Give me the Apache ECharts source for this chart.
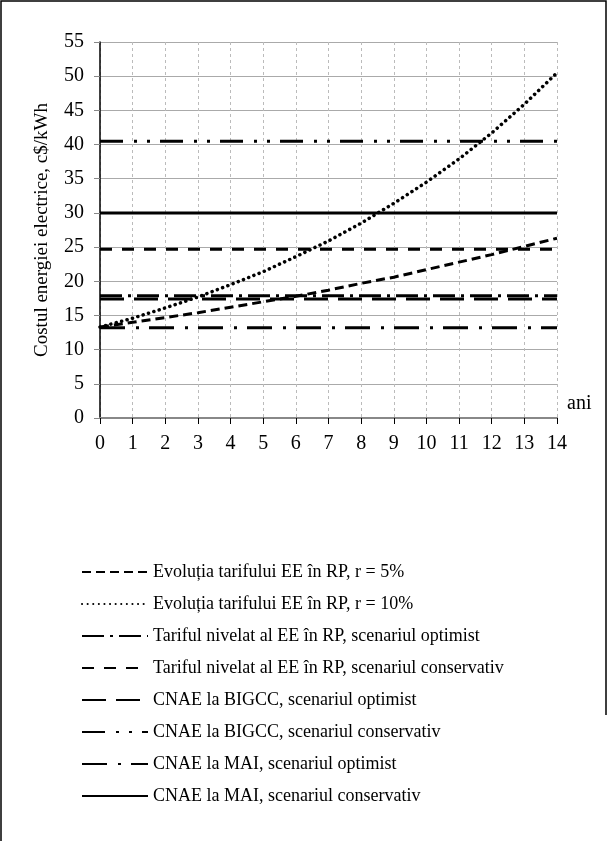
<!DOCTYPE html>
<html>
<head>
<meta charset="utf-8">
<script src="https://cdn.jsdelivr.net/npm/echarts@6/dist/echarts.min.js"></script>
<style>
  html, body { margin: 0; padding: 0; background: #fff; }
  #chart { width: 608px; height: 841px; }
</style>
</head>
<body>
<div id="chart"></div>
<script>
// years (ani) and the two tariff growth curves
const years = [0, 1, 2, 3, 4, 5, 6, 7, 8, 9, 10, 11, 12, 13, 14];
const tarif5 = [13.3, 14.0, 14.7, 15.4, 16.2, 17.0, 17.8, 18.7, 19.7, 20.6, 21.7, 22.8, 23.9, 25.1, 26.3];
const tarif10 = [13.3, 14.6, 16.1, 17.7, 19.5, 21.4, 23.6, 25.9, 28.5, 31.4, 34.5, 37.9, 41.7, 45.9, 50.5];

// flat levels (start and end of each horizontal line)
const xSpan = [0, 14];
const tarifNivOpt = [17.9, 17.9];
const tarifNivCons = [24.7, 24.7];
const bigccOpt = [17.4, 17.4];
const bigccCons = [40.5, 40.5];
const maiOpt = [13.2, 13.2];
const maiCons = [30, 30];

const seriesNames = [
  'Evoluția tarifului EE în RP, r = 5%',
  'Evoluția tarifului EE în RP, r = 10%',
  'Tariful nivelat al EE în RP, scenariul optimist',
  'Tariful nivelat al EE în RP, scenariul conservativ',
  'CNAE la BIGCC, scenariul optimist',
  'CNAE la BIGCC, scenariul conservativ',
  'CNAE la MAI, scenariul optimist',
  'CNAE la MAI, scenariul conservativ'
];

const font = 'Liberation Serif';
const pair = (xs, ys) => xs.map((x, i) => [x, ys[i]]);

const chart = echarts.init(document.getElementById('chart'));

function lineSeries(name, data, dash, cap, width) {
  return {
    name: name,
    type: 'line',
    data: data,
    symbol: 'none',
    // hide the legend marker, keep only the line sample
    itemStyle: { color: 'rgba(0,0,0,0)', borderWidth: 0 },
    lineStyle: { color: '#000', width: width || 3, type: dash, cap: cap || 'butt' }
  };
}

const option = {
  animation: false,
  backgroundColor: '#fff',
  grid: { left: 100, right: 51, top: 42, bottom: 423 },
  xAxis: {
    type: 'value',
    min: 0,
    max: 14,
    interval: 1,
    axisLine: { lineStyle: { color: '#888', width: 2 } },
    axisTick: { show: true, length: 6, lineStyle: { color: '#000' } },
    axisLabel: { color: '#000', fontFamily: font, fontSize: 20, margin: 16 },
    splitLine: { show: true, lineStyle: { color: '#bbb', type: [3, 3], width: 1 } }
  },
  yAxis: {
    type: 'value',
    min: 0,
    max: 55,
    interval: 5,
    name: 'Costul energiei electrice, c$/kWh',
    nameLocation: 'middle',
    nameGap: 48,
    nameTextStyle: { color: '#000', fontFamily: font, fontSize: 19 },
    axisLine: { show: true, lineStyle: { color: '#000', width: 1.5 } },
    axisTick: { show: true, length: 6, lineStyle: { color: '#888' } },
    axisLabel: { color: '#000', fontFamily: font, fontSize: 20, margin: 16 },
    splitLine: { show: true, lineStyle: { color: '#aaa', width: 1 } }
  },
  legend: {
    orient: 'vertical',
    left: 76,
    top: 558,
    itemWidth: 66,
    itemHeight: 18,
    itemGap: 14,
    itemStyle: { opacity: 0 },
    textStyle: { color: '#000', fontFamily: font, fontSize: 18 },
    data: seriesNames
  },
  graphic: [
    {
      type: 'polyline',
      shape: { points: [[1, 841], [1, 1], [606, 1], [606, 715]] },
      style: { stroke: '#000', lineWidth: 1.5, fill: null }
    },
    {
      type: 'text',
      left: 567,
      top: 394,
      style: { text: 'ani', fill: '#000', font: '20px "Liberation Serif"' }
    }
  ],
  series: [
    lineSeries(seriesNames[0], pair(years, tarif5), [9, 5]),
    lineSeries(seriesNames[1], pair(years, tarif10), [0.1, 5.5], 'round', 3.5),
    lineSeries(seriesNames[2], pair(xSpan, tarifNivOpt), [22, 6, 3, 6]),
    lineSeries(seriesNames[3], pair(xSpan, tarifNivCons), [12, 10]),
    lineSeries(seriesNames[4], pair(xSpan, bigccOpt), [24, 10]),
    lineSeries(seriesNames[5], pair(xSpan, bigccCons), [23, 11, 3, 10, 3, 10]),
    lineSeries(seriesNames[6], pair(xSpan, maiOpt), [25, 11, 3, 10]),
    lineSeries(seriesNames[7], pair(xSpan, maiCons), 'solid')
  ]
};

chart.setOption(option);
</script>
</body>
</html>
